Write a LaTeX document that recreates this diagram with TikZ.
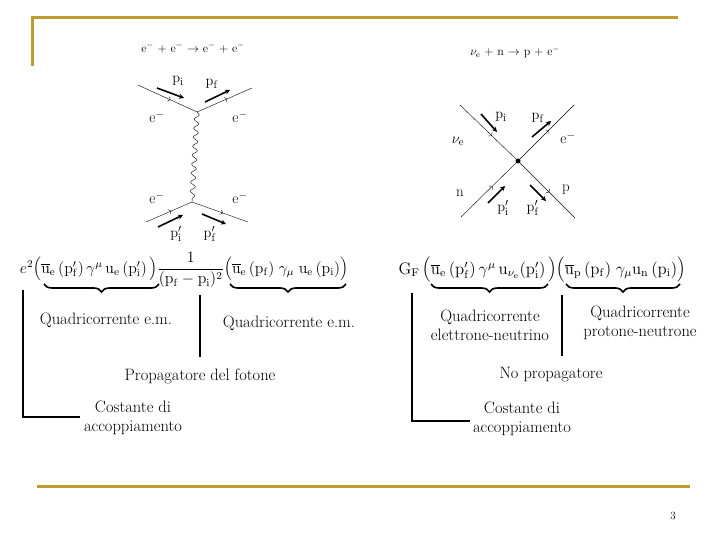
\documentclass[tikz,border=0pt]{standalone}
\usetikzlibrary{decorations.pathreplacing,decorations.pathmorphing,decorations.markings,arrows.meta}
\begin{document}
\begin{tikzpicture}[x=1pt,y=-1pt,
  gold/.style={draw={rgb,255:red,190;green,155;blue,50},line width=3pt},
  ferm/.style={thin,postaction={decorate},decoration={markings,mark=at position 0.55 with {\arrow{>}}}},
  mom/.style={line width=1.6pt,-{Stealth[length=5pt,width=5pt]}},
  br/.style={line width=1.6pt,decorate,decoration={brace,mirror,amplitude=8pt}},
  bar/.style={line width=2.2pt},
  lab/.style={font=\fontsize{15}{15}\selectfont},
  txt/.style={font=\fontsize{16.5}{19}\selectfont,align=center},
  frm/.style={font=\fontsize{12}{12}\selectfont,inner sep=0pt}]
\useasboundingbox (0,0) rectangle (720,540);
\fill[white] (0,0) rectangle (720,540);
% frame
\draw[gold] (32,66) -- (32,18) -- (678,18);
\draw[gold] (37,486) -- (690,486);
% titles
\node[frm] (t1) at (193,48) {e$^-$ + e$^-$ $\rightarrow$ e$^-$ + e$^-$};
\node[frm] (t2) at (515,52) {$\nu_{\mathrm e}$ + n $\rightarrow$ p + e$^-$};
% left diagram
\coordinate (v1) at (197,112); \coordinate (v2) at (192,202);
\coordinate (a1) at (138,85); \coordinate (a2) at (252,88);
\coordinate (b1) at (146,222); \coordinate (b2) at (248,222);
\draw[ferm] (a1) -- (v1); \draw[ferm] (v1) -- (a2);
\draw[ferm] (b1) -- (v2); \draw[ferm] (v2) -- (b2);
\draw[decorate,decoration={snake,amplitude=2.5pt,segment length=9pt}] (v1) -- (v2);
\node[lab] (l1) at (157,117) {e$^-$}; \node[lab] (l2) at (240,117) {e$^-$};
\node[lab] (l3) at (157,198) {e$^-$}; \node[lab] (l4) at (240,198) {e$^-$};
\node[lab] (pi1) at (178,81) {$\mathrm{p_i}$}; \node[lab] (pf1) at (212,84) {$\mathrm{p_f}$};
\node[lab] (pi2) at (176,234) {$\mathrm{p'_i}$}; \node[lab] (pf2) at (210,234) {$\mathrm{p'_f}$};
\coordinate (m1s) at (157,88); \coordinate (m1e) at (184,98);
\coordinate (m2s) at (205,102); \coordinate (m2e) at (230,90);
\coordinate (m3s) at (158,227); \coordinate (m3e) at (183,215);
\coordinate (m4s) at (202,214); \coordinate (m4e) at (226,224);
\draw[mom] (m1s) -- (m1e); \draw[mom] (m2s) -- (m2e);
\draw[mom] (m3s) -- (m3e); \draw[mom] (m4s) -- (m4e);
% right diagram
\coordinate (c) at (518,161);
\coordinate (r1) at (460,105); \coordinate (r2) at (575,218);
\coordinate (r3) at (461,217); \coordinate (r4) at (574,105);
\draw[ferm] (r1) -- (c); \draw[ferm] (c) -- (r2);
\draw[ferm] (r3) -- (c); \draw[ferm] (c) -- (r4);
\fill (c) circle (2.5);
\node[lab] (nu) at (458,141) {$\nu_{\mathrm e}$};
\node[lab] (rp1) at (501,117) {$\mathrm{p_i}$}; \node[lab] (rp2) at (538,118) {$\mathrm{p_f}$};
\node[lab] (re) at (568,138) {e$^-$};
\node[lab] (rn) at (460,193) {n}; \node[lab] (rp) at (566,190) {p};
\node[lab] (rp3) at (503,208) {$\mathrm{p'_i}$}; \node[lab] (rp4) at (533,208) {$\mathrm{p'_f}$};
\coordinate (n1s) at (481,114); \coordinate (n1e) at (497,132);
\coordinate (n2s) at (532,137); \coordinate (n2e) at (551,121);
\coordinate (n3s) at (488,203); \coordinate (n3e) at (505,186);
\coordinate (n4s) at (530,185); \coordinate (n4e) at (546,201);
\draw[mom] (n1s) -- (n1e); \draw[mom] (n2s) -- (n2e);
\draw[mom] (n3s) -- (n3e); \draw[mom] (n4s) -- (n4e);
% formulas
\node[frm] (f1) at (184,270) {\resizebox{328pt}{!}{$e^2\Bigl(\overline{\mathrm u}_{\mathrm e}\,(\mathrm{p'_f})\,\gamma^\mu\,\mathrm u_{\mathrm e}\,(\mathrm{p'_i})\,\Bigr)\displaystyle\frac{1}{(\mathrm p_{\mathrm f}-\mathrm p_{\mathrm i})^2}\Bigl(\overline{\mathrm u}_{\mathrm e}\,(\mathrm p_{\mathrm f})\;\gamma_\mu\;\mathrm u_{\mathrm e}\,(\mathrm p_{\mathrm i})\Bigr)$}};
\node[frm] (f2) at (542,270) {\resizebox{287pt}{!}{$\mathrm G_{\mathrm F}\,\Bigl(\overline{\mathrm u}_{\mathrm e}\,(\mathrm{p'_f})\,\gamma^\mu\,\mathrm u_{\nu_{\mathrm e}}(\mathrm{p'_i})\,\Bigr)\Bigl(\overline{\mathrm u}_{\mathrm p}\,(\mathrm p_{\mathrm f})\;\gamma_\mu\mathrm u_{\mathrm n}\,(\mathrm p_{\mathrm i})\Bigr)$}};
% braces
\coordinate (B1a) at (44,284); \coordinate (B1b) at (159,284);
\coordinate (B2a) at (230,284); \coordinate (B2b) at (346,284);
\coordinate (B3a) at (431,284); \coordinate (B3b) at (548,284);
\coordinate (B4a) at (566,284); \coordinate (B4b) at (680,284);
\draw[br] (B1a) -- (B1b); \draw[br] (B2a) -- (B2b);
\draw[br] (B3a) -- (B3b); \draw[br] (B4a) -- (B4b);
% bars
\coordinate (L1) at (23,290); \coordinate (L2) at (23,417); \coordinate (L3) at (80,417);
\draw[bar] (L1) -- (L2) -- (L3);
\coordinate (M1) at (200,295); \coordinate (M2) at (200,357);
\draw[bar] (M1) -- (M2);
\coordinate (R1) at (412,293); \coordinate (R2) at (412,421); \coordinate (R3) at (470,421);
\draw[bar] (R1) -- (R2) -- (R3);
\coordinate (S1) at (562,295); \coordinate (S2) at (562,356);
\draw[bar] (S1) -- (S2);
% texts
\node[txt] (q1) at (106,320) {Quadricorrente e.m.};
\node[txt] (q2) at (289,323) {Quadricorrente e.m.};
\node[txt] (pr) at (200,376) {Propagatore del fotone};
\node[txt] (cd1) at (133,418) {Costante di\\accoppiamento};
\node[txt] (q3) at (490,325) {Quadricorrente\\elettrone-neutrino};
\node[txt] (q4) at (640,323) {Quadricorrente\\protone-neutrone};
\node[txt] (np) at (551,375) {No propagatore};
\node[txt] (cd2) at (522,419) {Costante di\\accoppiamento};
\node[font=\fontsize{11}{11}\selectfont] (pg) at (673,516) {3};
\end{tikzpicture}
\end{document}
